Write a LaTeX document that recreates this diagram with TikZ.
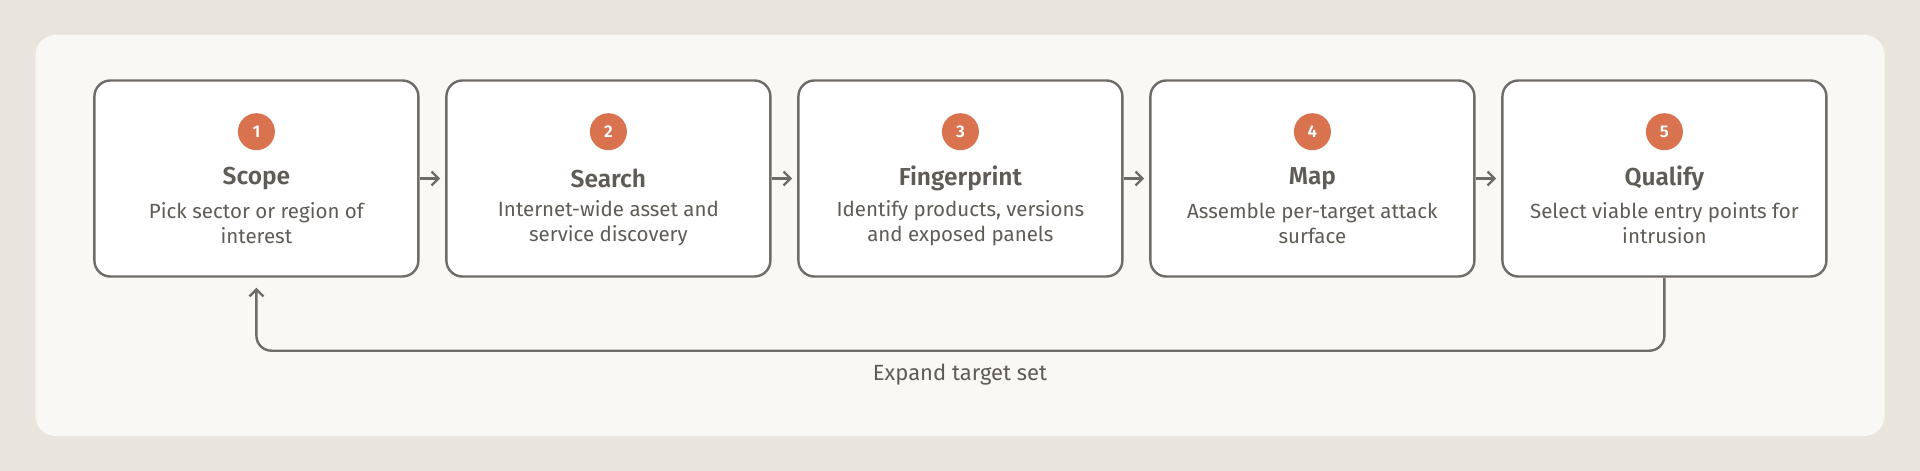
\documentclass[tikz,border=0pt]{standalone}
\usepackage{fontspec}
\setmainfont{Fira Sans}
\newfontfamily\titlefont{Fira Sans SemiBold}
\usetikzlibrary{arrows.meta}
\definecolor{outerbg}{HTML}{E9E5DE}
\definecolor{panelbg}{HTML}{F9F8F5}
\definecolor{linec}{HTML}{6F6B66}
\definecolor{textc}{HTML}{5F5B56}
\definecolor{badgec}{HTML}{D9734F}
\tikzset{
  stepbox/.style={draw=linec, line width=2.4pt, fill=white, rounded corners=16pt,
    minimum width=324pt, minimum height=196pt, inner sep=0pt},
  badge/.style={circle, fill=badgec, minimum size=37pt, inner sep=0pt,
    text=white, font=\fontsize{17}{17}\selectfont\titlefont},
  titletext/.style={text=textc, font=\fontsize{24.5}{24}\selectfont\titlefont},
  desctext/.style={text=textc, align=center, font=\fontsize{20.5}{25}\selectfont},
  flow/.style={draw=linec, line width=2.4pt, -{Straight Barb[length=7pt,width=14pt,line width=2.4pt]}},
}
\begin{document}
\begin{tikzpicture}[x=1pt,y=-1pt]
\useasboundingbox[fill=outerbg] (0,0) rectangle (1920,471);
\fill[panelbg, rounded corners=20pt] (35.5,35) rectangle (1884.5,436);
\foreach \i/\t/\da/\db in {1/Scope/Pick sector or region of/interest,
  2/Search/Internet-wide asset and/service discovery,
  3/Fingerprint/{Identify products, versions}/and exposed panels,
  4/Map/Assemble per-target attack/surface,
  5/Qualify/Select viable entry points for/intrusion}{
  \pgfmathsetmacro{\cx}{256.4+352*(\i-1)}
  \node[stepbox] (b\i) at (\cx,178.5) {};
  \node[badge] (n\i) at (\cx,131.7) {\i};
  \node[titletext] (t\i) at (\cx,178.5) {\t};
  \node[desctext] (d\i) at (\cx,223) {\da\\\db};
}
\foreach \i/\j in {1/2,2/3,3/4,4/5}{
  \draw[flow, shorten >=5pt] (b\i.east) -- (b\j.west);
}
\coordinate (lp) at (960,350.7);
\draw[flow, rounded corners=15pt, shorten >=10pt] (b5.south) -- (b5.south |- lp) -- (b1.south |- lp) -- (b1.south);
\node[text=textc, font=\fontsize{22}{24}\selectfont] (lab) at (960,375) {Expand target set};
\end{tikzpicture}
\end{document}
